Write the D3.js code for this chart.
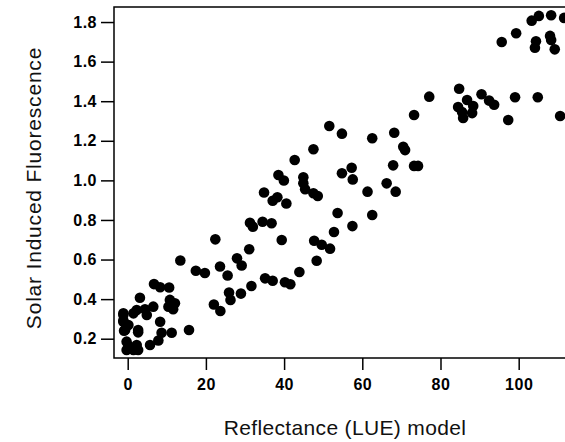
<!DOCTYPE html>
<html>
<head>
  <title>SIF vs LUE model</title>
  <style>
    body { margin: 0; background: #fff; }
    .chart { font-family: "Liberation Sans", Arial, sans-serif; }
    .chart .axis text { font-size: 16px; font-weight: bold; fill: #000; letter-spacing: 0.5px; }
    .chart .axis line { stroke: #000; stroke-width: 1.5px; }
    .chart .axis path { display: none; }
    .chart .frame { fill: none; stroke: #000; stroke-width: 1.5px; }
    .chart .dot { fill: #000; }
    .chart .title { fill: #111; }
  </style>
</head>
<body>
  <svg id="chart" class="chart" width="565" height="442"></svg>

  <script src="https://d3js.org/d3.v7.min.js"></script>
  <script>
    // Reflectance (LUE) model values
    const lueValues = [
      103.32, 105.16, 108.30, 111.62, 99.35, 95.66, 104.42, 104.15, 108.02, 108.30, 109.22,
      77.12, 84.77, 90.49, 92.43, 93.72, 99.07, 104.88, 110.60, 97.32,
      84.50, 86.80, 88.37, 85.79, 88.09, 85.51,
      73.24, 70.47, 70.94, 73.24, 74.26,
      51.56, 54.79, 62.54, 68.17, 47.50, 67.89, 57.28, 54.79, 57.56,
      42.71, 44.92, 44.92, 45.38, 47.50, 48.61, 61.34, 66.23, 68.54,
      38.55, 39.94, 34.87, 37.08, 38.28, 40.58, 53.68, 62.54, 57.47, 52.76,
      47.69, 49.62, 51.75, 48.33, 43.91, 35.14, 37.08, 40.22, 41.60, 31.64,
      31.27, 32.01, 34.50, 36.80, 39.39, 31.08, 27.95, 29.15, 23.61, 19.74, 25.55,
      22.41, 13.46, 17.43, 28.96, 25.92, 26.29, 22.04, 23.70, 15.68,
      6.73, 8.30, 10.60, 3.13, 10.79, 12.08, 10.42, 11.62, 6.54, 4.42, 2.30,
      4.88, -1.11, 1.47, 8.30, -1.11, 0.18, -0.65, 2.67, 8.67, 11.25,
      7.84, 5.71, -0.28, 0.55, 2.30, 2.67, -0.28, 1.47, -1.11, -1.11, -0.93, 0.18, 1.01, 2.67
    ];

    // Solar induced fluorescence values
    const sifValues = [
      1.807, 1.831, 1.834, 1.821, 1.743, 1.699, 1.703, 1.670, 1.730, 1.709, 1.662,
      1.423, 1.463, 1.435, 1.403, 1.382, 1.420, 1.420, 1.325, 1.305,
      1.371, 1.406, 1.376, 1.315, 1.340, 1.345,
      1.330, 1.170, 1.153, 1.073, 1.073,
      1.275, 1.236, 1.213, 1.241, 1.157, 1.076, 1.064, 1.036, 1.005,
      1.103, 1.016, 0.985, 0.955, 0.935, 0.921, 0.943, 0.985, 0.943,
      1.027, 0.999, 0.939, 0.897, 0.915, 0.883, 0.835, 0.825, 0.769, 0.739,
      0.695, 0.675, 0.655, 0.594, 0.537, 0.505, 0.493, 0.485, 0.475, 0.466,
      0.786, 0.766, 0.791, 0.783, 0.699, 0.652, 0.606, 0.570, 0.565, 0.532, 0.519,
      0.702, 0.595, 0.543, 0.428, 0.433, 0.396, 0.373, 0.340, 0.244,
      0.476, 0.460, 0.459, 0.407, 0.396, 0.379, 0.362, 0.349, 0.362, 0.349, 0.345,
      0.320, 0.320, 0.328, 0.286, 0.286, 0.269, 0.244, 0.244, 0.230, 0.230,
      0.191, 0.168, 0.185, 0.157, 0.168, 0.143, 0.143, 0.143, 0.328, 0.292, 0.240, 0.163, 0.150, 0.232
    ];

    const xTicks = [0, 20, 40, 60, 80, 100];
    const yTicks = [0.2, 0.4, 0.6, 0.8, 1.0, 1.2, 1.4, 1.6, 1.8];

    const points = lueValues.map((x, i) => ({ x: x, y: sifValues[i] }));

    const svg = d3.select('#chart');
    const plotLeft = 114, plotTop = 7, plotBottom = 358, plotRight = 580;

    const xScale = d3.scaleLinear().domain([-3.504, 115.68]).range([plotLeft, plotRight]);
    const yScale = d3.scaleLinear().domain([0.1025, 1.876]).range([plotBottom, plotTop]);

    // frame
    svg.append('rect')
      .attr('class', 'frame')
      .attr('x', plotLeft)
      .attr('y', plotTop)
      .attr('width', plotRight - plotLeft)
      .attr('height', plotBottom - plotTop);

    // axes
    svg.append('g')
      .attr('class', 'axis axis-x')
      .attr('transform', `translate(0,${plotBottom})`)
      .call(d3.axisBottom(xScale).tickValues(xTicks).tickSize(12).tickPadding(9));

    svg.append('g')
      .attr('class', 'axis axis-y')
      .attr('transform', `translate(${plotLeft},0)`)
      .call(d3.axisLeft(yScale).tickValues(yTicks).tickFormat(d3.format('.1f')).tickSize(13).tickPadding(4));

    // points
    svg.append('g')
      .selectAll('circle')
      .data(points)
      .enter()
      .append('circle')
      .attr('class', 'dot')
      .attr('cx', d => xScale(d.x))
      .attr('cy', d => yScale(d.y))
      .attr('r', 5.3);

    // titles
    svg.append('text')
      .attr('class', 'title')
      .attr('x', 345)
      .attr('y', 435)
      .attr('text-anchor', 'middle')
      .style('font-size', '21px')
      .style('letter-spacing', '0.35px')
      .text('Reflectance (LUE) model');

    svg.append('text')
      .attr('class', 'title')
      .attr('transform', 'translate(41,188) rotate(-90)')
      .attr('text-anchor', 'middle')
      .style('font-size', '21px')
      .style('letter-spacing', '0.8px')
      .text('Solar Induced Fluorescence');
  </script>
</body>
</html>
